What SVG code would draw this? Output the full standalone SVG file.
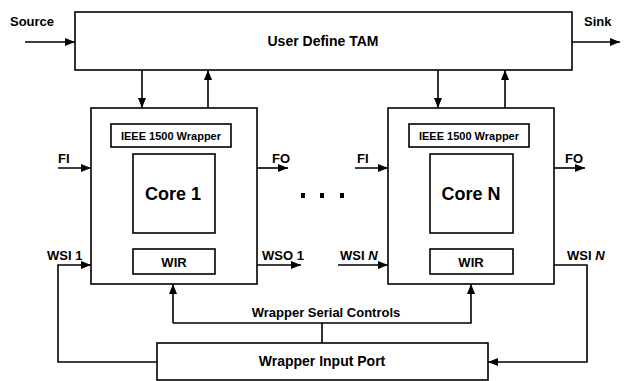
<svg xmlns="http://www.w3.org/2000/svg" width="625" height="381" viewBox="0 0 625 381">
<style>
.box{fill:#fff;stroke:#000;stroke-width:1.6}
.ln{fill:none;stroke:#000;stroke-width:1.6}
text{font-family:"Liberation Sans",Arial,sans-serif;font-weight:bold;fill:#000}
.lbl{font-size:13px}
.big{font-size:14px}
.small{font-size:11px}
.core{font-size:18px}
.c{text-anchor:middle}
</style>
<defs>
<marker id="ah" markerUnits="userSpaceOnUse" markerWidth="10" markerHeight="8" refX="10" refY="4" orient="auto">
<path d="M0,0 L10,4 L0,8 Z" fill="#000"/>
</marker>
</defs>
<g id="tam">
<rect class="box" x="75" y="12" width="497" height="58"/>
<text class="big c" x="323" y="46">User Define TAM</text>
</g>
<g id="core1">
<rect class="box" x="91" y="108" width="166" height="176"/>
<rect class="box" x="111" y="124" width="120" height="23"/>
<text class="small c" x="171" y="140">IEEE 1500 Wrapper</text>
<rect class="box" x="133" y="154" width="82" height="79"/>
<text class="core c" x="173" y="200">Core 1</text>
<rect class="box" x="133" y="249" width="82" height="25"/>
<text class="lbl c" x="174" y="267">WIR</text>
</g>
<g id="coreN">
<rect class="box" x="388" y="108" width="166" height="176"/>
<rect class="box" x="409" y="124" width="120" height="23"/>
<text class="small c" x="469" y="140">IEEE 1500 Wrapper</text>
<rect class="box" x="430" y="154" width="83" height="79"/>
<text class="core c" x="471" y="200">Core N</text>
<rect class="box" x="430" y="249" width="83" height="25"/>
<text class="lbl c" x="471" y="267">WIR</text>
</g>
<g id="wip">
<rect class="box" x="157" y="343" width="331" height="37"/>
<text class="big c" x="322" y="366">Wrapper Input Port</text>
</g>
<g id="dots">
<rect x="301" y="193" width="4" height="5" fill="#000"/>
<rect x="320" y="193" width="4" height="5" fill="#000"/>
<rect x="340" y="193" width="4" height="5" fill="#000"/>
</g>
<g id="connectors">
<line class="ln" x1="25" y1="42" x2="75" y2="42" marker-end="url(#ah)"/>
<line class="ln" x1="572" y1="42" x2="620" y2="42" marker-end="url(#ah)"/>
<line class="ln" x1="142" y1="70" x2="142" y2="108" marker-end="url(#ah)"/>
<line class="ln" x1="208" y1="108" x2="208" y2="70" marker-end="url(#ah)"/>
<line class="ln" x1="438" y1="70" x2="438" y2="108" marker-end="url(#ah)"/>
<line class="ln" x1="505" y1="108" x2="505" y2="70" marker-end="url(#ah)"/>
<line class="ln" x1="58" y1="168" x2="91" y2="168" marker-end="url(#ah)"/>
<line class="ln" x1="257" y1="168" x2="288" y2="168" marker-end="url(#ah)"/>
<line class="ln" x1="355" y1="168" x2="388" y2="168" marker-end="url(#ah)"/>
<line class="ln" x1="554" y1="168" x2="585" y2="168" marker-end="url(#ah)"/>
<polyline class="ln" points="157,362 58,362 58,265 91,265" marker-end="url(#ah)"/>
<line class="ln" x1="257" y1="265" x2="301" y2="265" marker-end="url(#ah)"/>
<line class="ln" x1="338" y1="265" x2="388" y2="265" marker-end="url(#ah)"/>
<polyline class="ln" points="554,265 587,265 587,362 488,362" marker-end="url(#ah)"/>
<polyline class="ln" points="173,323 173,284" marker-end="url(#ah)"/>
<polyline class="ln" points="173,323 471,323 471,284" marker-end="url(#ah)"/>
<line class="ln" x1="322" y1="323" x2="322" y2="343"/>
</g>
<g id="labels">
<text class="lbl" x="10" y="26">Source</text>
<text class="lbl" x="584" y="26">Sink</text>
<text class="lbl" x="58" y="163">FI</text>
<text class="lbl" x="272" y="163">FO</text>
<text class="lbl" x="357" y="163">FI</text>
<text class="lbl" x="565" y="163">FO</text>
<text class="lbl" x="47" y="260">WSI 1</text>
<text class="lbl" x="262" y="260">WSO 1</text>
<text class="lbl" x="340" y="260">WSI <tspan font-style="italic">N</tspan></text>
<text class="lbl" x="567" y="260">WSI <tspan font-style="italic">N</tspan></text>
<text class="lbl c" x="326" y="317">Wrapper Serial Controls</text>
</g>
</svg>
